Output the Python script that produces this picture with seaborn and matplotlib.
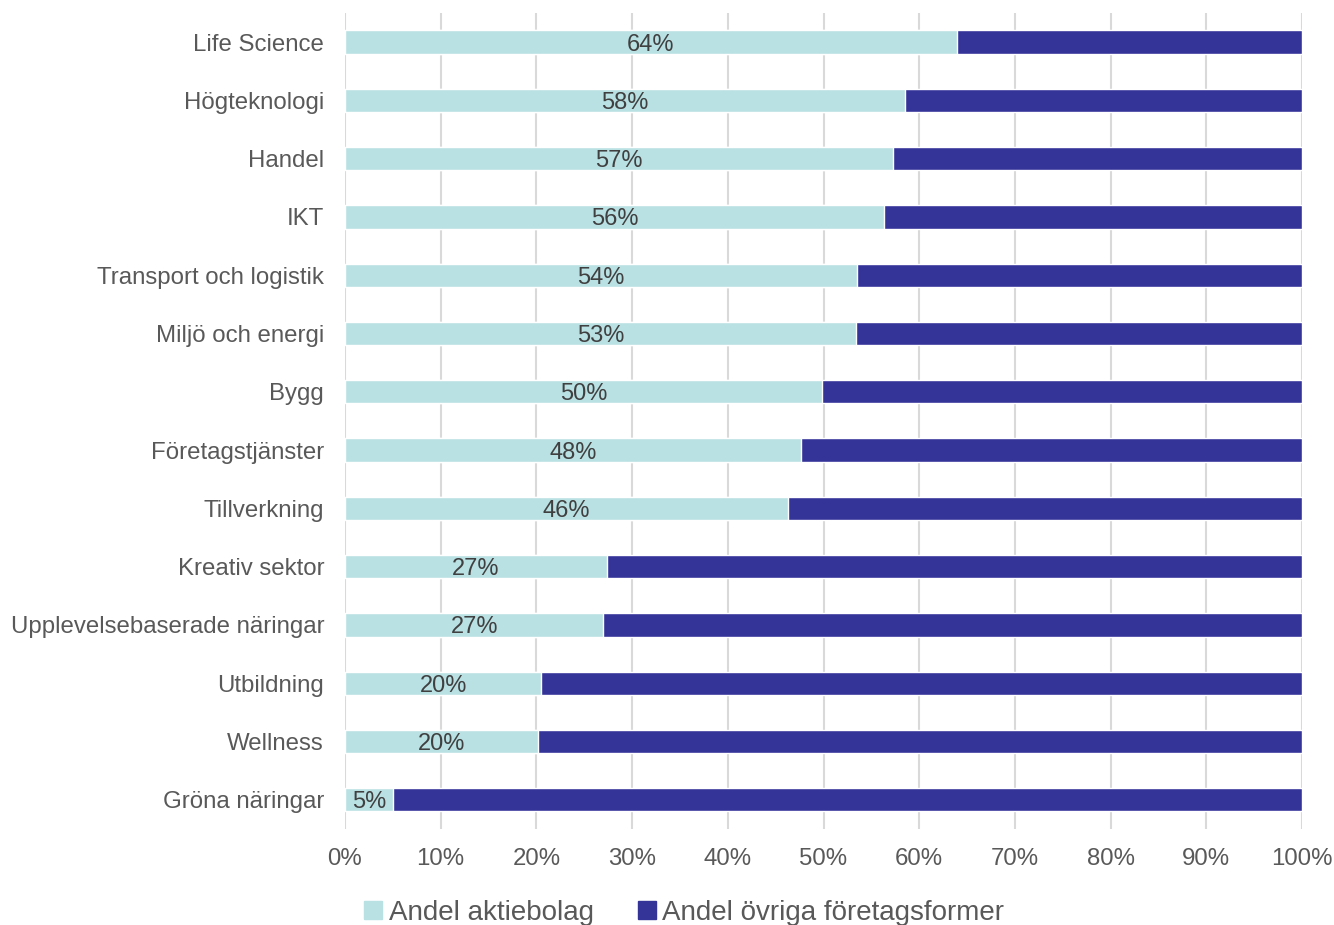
import pandas as pd
import seaborn as sns
import matplotlib.pyplot as plt
from matplotlib.lines import Line2D

# Data
branscher = [
    "Life Science", "Högteknologi", "Handel", "IKT", "Transport och logistik",
    "Miljö och energi", "Bygg", "Företagstjänster", "Tillverkning",
    "Kreativ sektor", "Upplevelsebaserade näringar", "Utbildning",
    "Wellness", "Gröna näringar",
]
andel_ab = [63.9, 58.5, 57.3, 56.3, 53.5, 53.4, 49.8, 47.6, 46.3, 27.4, 27.0, 20.5, 20.2, 5.0]
total = [100] * len(branscher)
labels = ["64%", "58%", "57%", "56%", "54%", "53%", "50%", "48%", "46%",
          "27%", "27%", "20%", "20%", "5%"]
xticks = list(range(0, 101, 10))

light = "#B9E0E3"
dark = "#343398"

df = pd.DataFrame({"bransch": branscher, "ab": andel_ab, "total": total})

sns.set_style("white")
plt.rcParams["font.family"] = ["Liberation Sans", "DejaVu Sans"]

fig = plt.figure(figsize=(13.34, 9.25), dpi=100)
ax = fig.add_axes([0.2586, 0.1038, 0.7175, 0.8822])

# full-width dark bar underneath, light share on top
sns.barplot(data=df, x="total", y="bransch", color=dark, width=0.4,
            orient="h", ax=ax, saturation=1, zorder=2)
sns.barplot(data=df, x="ab", y="bransch", color=light, width=0.4,
            orient="h", ax=ax, saturation=1, zorder=3)

for i, (v, lab) in enumerate(zip(andel_ab, labels)):
    ax.text(v / 2, i, lab, ha="center", va="center_baseline", fontsize=17,
            color="#404040", zorder=4)

ax.set_xlim(0, 100)
ax.set_ylim(len(branscher) - 0.5, -0.5)
ax.set_xticks(xticks)
ax.set_xticklabels([f"{t}%" for t in xticks])
ax.set_xlabel("")
ax.set_ylabel("")
ax.grid(axis="x", color="#D9D9D9", linewidth=1.5, zorder=0)
ax.set_axisbelow(True)
for s in ax.spines.values():
    s.set_visible(False)
ax.tick_params(axis="y", length=0, pad=15, labelsize=17.3, labelcolor="#595959")
ax.tick_params(axis="x", length=0, pad=14, labelsize=17.3, labelcolor="#595959")

handles = [
    Line2D([], [], marker="s", linestyle="", markersize=13, color=light),
    Line2D([], [], marker="s", linestyle="", markersize=13, color=dark),
]
fig.legend(handles, ["Andel aktiebolag", "Andel övriga företagsformer"],
           loc="center", bbox_to_anchor=(0.511, 0.013), ncol=2, frameon=False,
           fontsize=20, handletextpad=0.05, columnspacing=1.4,
           labelcolor="#595959", handlelength=1.0)

fig.savefig("out.png", dpi=100)
